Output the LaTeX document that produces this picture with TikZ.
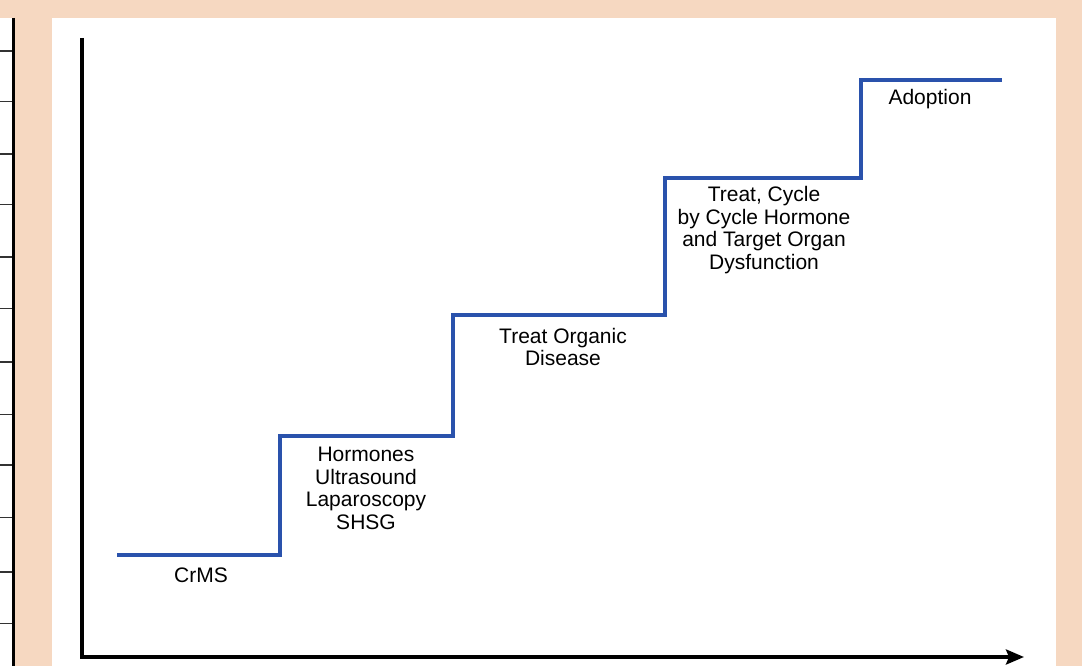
\documentclass[tikz,border=0pt]{standalone}
\usepackage{fontspec}
\setmainfont{Liberation Sans}
\usetikzlibrary{arrows.meta}
\definecolor{peach}{RGB}{246,216,193}
\definecolor{stairblue}{RGB}{42,82,172}

\begin{document}
\begin{tikzpicture}[x=1pt,y=-1pt,
  lbl/.style={align=center,inner sep=0pt,font=\fontsize{21}{22.5}\selectfont},
  stair/.style={stairblue,line width=3.5pt,line join=miter},
  axis/.style={black,line width=3.5pt}]
\fill[peach] (0,0) rectangle (1082,666);
\useasboundingbox (0,0) rectangle (1082,666);
% table edge on the left
\fill[white] (0,18) rectangle (13,666);
\foreach \y/\w in {51/1.6,101/0.8,154/1.6,204/0.8,257/1.6,308/0.8,362/1.6,414/0.8,465/1.6,517/0.8,572/1.6,623/0.8}
  \draw[line width=\w pt,black!80] (0,\y) -- (13,\y);
\draw[line width=3pt] (13.5,18) -- (13.5,666);
% panel
\fill[white] (52,18) rectangle (1056,666);
\draw[axis] (82,38) -- (82,658.75);
\draw[axis,-{Stealth[length=18pt,width=15pt,inset=3pt]}] (80.25,657) -- (1024,657);
% stairs
\draw[stair] (117,555) -- (280,555) -- (280,436) -- (453,436) -- (453,315)
  -- (665,315) -- (665,178) -- (861,178) -- (861,80) -- (1002,80);
\node[lbl] (crms) at (201,575) {CrMS};
\node[lbl] (tests) at (366,488.5) {Hormones\\Ultrasound\\Laparoscopy\\SHSG};
\node[lbl] (organic) at (563,347) {Treat Organic\\Disease};
\node[lbl] (cycle) at (764,230) {Treat, Cycle\\by Cycle Hormone\\and Target Organ\\Dysfunction};
\node[lbl] (adopt) at (930,99) {Adoption};
\end{tikzpicture}
\end{document}
